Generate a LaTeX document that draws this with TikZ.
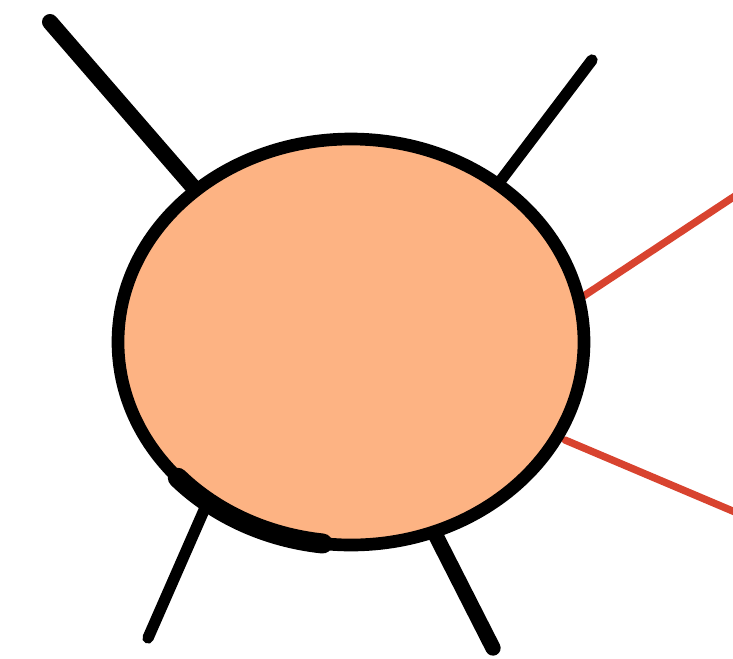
\documentclass[tikz,border=0pt]{standalone}
\definecolor{peach}{HTML}{FDB383}
\definecolor{raycol}{HTML}{D8432F}
\tikzset{
  leg/.style={line width=10pt, line cap=round, black},
  ray/.style={line width=5.5pt, line cap=round, raycol},
  body/.style={fill=peach, draw=black, line width=9.5pt},
}
\begin{document}
\begin{tikzpicture}[x=0.75pt,y=-0.75pt]
\useasboundingbox (0,0) rectangle (733,658);
% leg ends
\coordinate (tl0) at (50,22);
\coordinate (tl1) at (200,195);
\coordinate (tr0) at (592,60);
\coordinate (tr1) at (492,192);
\coordinate (bl0) at (148,638);
\coordinate (bl1) at (212,492);
\coordinate (br0) at (493,648);
\coordinate (br1) at (432,528);
% ray ends
\coordinate (ru0) at (735,196);
\coordinate (ru1) at (570,305);
\coordinate (rl0) at (735,512);
\coordinate (rl1) at (565,440);
\draw[leg, line width=12pt] (tl0) -- (tl1);
\draw[leg, line width=8.5pt] (tr0) -- (tr1);
\draw[leg, line width=8.5pt] (bl0) -- (bl1);
\draw[leg, line width=11.5pt] (br0) -- (br1);
\draw[ray] (ru0) -- (ru1);
\draw[ray] (rl0) -- (rl1);
% body
\coordinate (c) at (351,342);
\draw[body] (c) ellipse[x radius=233, y radius=203];
\draw[line width=15pt, line cap=round] (c) ++(138:233 and 203)
  arc[start angle=138, end angle=97, x radius=233, y radius=203];
\end{tikzpicture}
\end{document}
